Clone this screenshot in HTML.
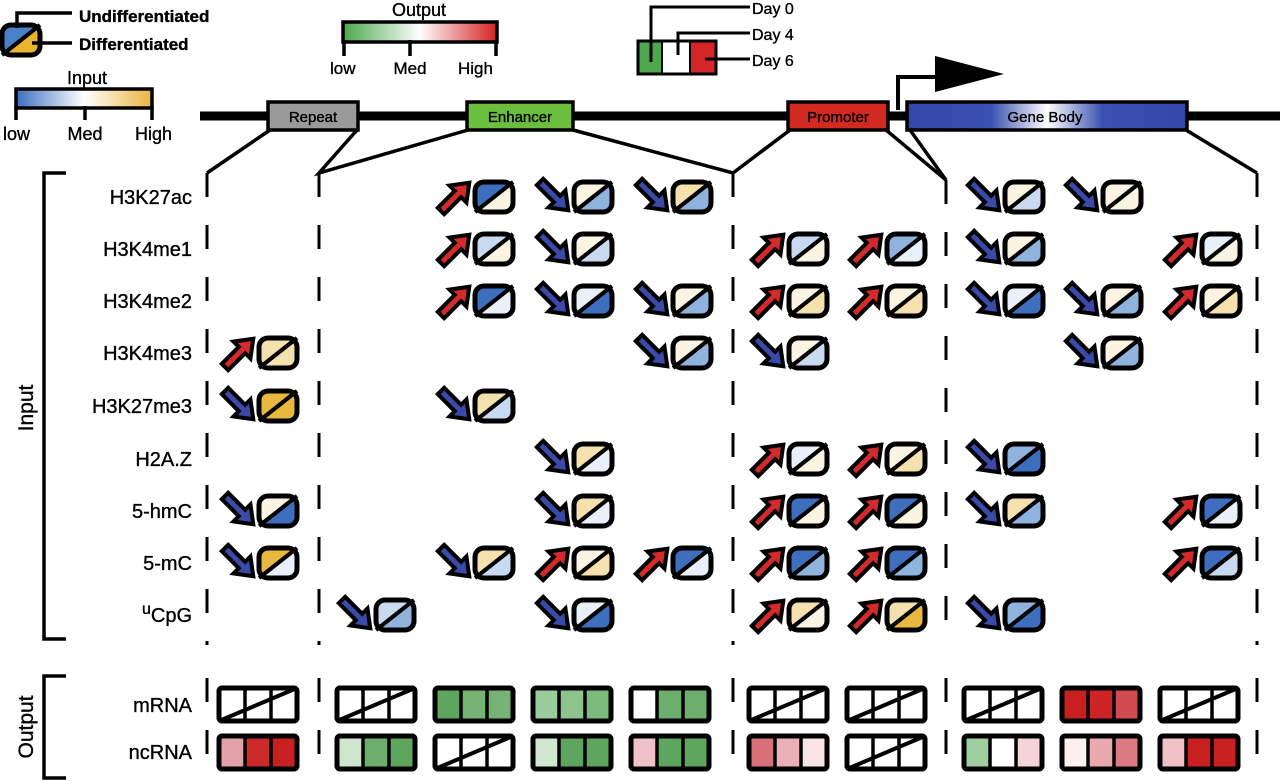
<!DOCTYPE html>
<html><head><meta charset="utf-8"><style>
html,body{margin:0;padding:0;background:#fff;width:1280px;height:781px;overflow:hidden}
svg{display:block}
text{font-family:"Liberation Sans",Arial,sans-serif;fill:#000;stroke:#000;stroke-width:0.35px}
</style></head><body>
<svg id="s" width="1280" height="781" viewBox="0 0 1280 781" xmlns="http://www.w3.org/2000/svg">
<defs>
<linearGradient id="gin" x1="0" x2="1"><stop offset="0" stop-color="#3b6fc0"/><stop offset="0.5" stop-color="#ffffff"/><stop offset="1" stop-color="#e9b43e"/></linearGradient>
<linearGradient id="gout" x1="0" x2="1"><stop offset="0" stop-color="#4aa84a"/><stop offset="0.5" stop-color="#ffffff"/><stop offset="1" stop-color="#d42020"/></linearGradient>
<linearGradient id="ggb" x1="0" x2="1"><stop offset="0" stop-color="#3347a8"/><stop offset="0.3" stop-color="#3a50b0"/><stop offset="0.5" stop-color="#ffffff"/><stop offset="0.7" stop-color="#3a50b0"/><stop offset="1" stop-color="#3347a8"/></linearGradient>
<clipPath id="gc"><rect x="-19" y="-15" width="38" height="30" rx="9"/></clipPath>
</defs>

<g transform="translate(21,40)">
<rect x="-19" y="-15" width="38" height="30" rx="9" fill="#e8b430"/>
<polygon clip-path="url(#gc)" points="-20,-16 20,-16 20,-15 -20,15" fill="#4a80c8"/>
<line x1="-19" y1="15" x2="19" y2="-15" stroke="#000" stroke-width="4"/>
<rect x="-19" y="-15" width="38" height="30" rx="9" fill="none" stroke="#000" stroke-width="5"/>
</g>
<polyline points="17,28 17,13 72,13" fill="none" stroke="#000" stroke-width="3.5"/>
<line x1="32" y1="43" x2="72" y2="43" stroke="#000" stroke-width="3.5"/>
<text x="79" y="22" font-size="17" font-weight="bold">Undifferentiated</text>
<text x="79" y="50" font-size="17" font-weight="bold">Differentiated</text>

<text x="87" y="84" font-size="18" text-anchor="middle">Input</text>
<rect x="16" y="89" width="136" height="19" fill="url(#gin)" stroke="#000" stroke-width="3.5"/>
<line x1="16" y1="106" x2="16" y2="120" stroke="#000" stroke-width="3.5"/>
<line x1="85" y1="106" x2="85" y2="120" stroke="#000" stroke-width="3.5"/>
<line x1="152" y1="106" x2="152" y2="120" stroke="#000" stroke-width="3.5"/>
<text x="3" y="140" font-size="18">low</text>
<text x="85" y="140" font-size="18" text-anchor="middle">Med</text>
<text x="135" y="140" font-size="18">High</text>

<text x="419" y="16" font-size="18" text-anchor="middle">Output</text>
<rect x="343" y="22" width="154" height="20" fill="url(#gout)" stroke="#000" stroke-width="3.5"/>
<line x1="344" y1="40" x2="344" y2="56" stroke="#000" stroke-width="3.5"/>
<line x1="410" y1="40" x2="410" y2="56" stroke="#000" stroke-width="3.5"/>
<line x1="496" y1="40" x2="496" y2="56" stroke="#000" stroke-width="3.5"/>
<text x="330" y="74" font-size="17">low</text>
<text x="410" y="74" font-size="17" text-anchor="middle">Med</text>
<text x="458" y="74" font-size="17">High</text>

<rect x="638" y="41" width="24" height="33" fill="#4ea84e"/>
<rect x="662" y="41" width="28" height="33" fill="#fff"/>
<rect x="690" y="41" width="26" height="33" fill="#d42626"/>
<rect x="638" y="41" width="78" height="33" fill="none" stroke="#000" stroke-width="3"/>
<line x1="662" y1="41" x2="662" y2="74" stroke="#000" stroke-width="2"/>
<line x1="690" y1="41" x2="690" y2="74" stroke="#000" stroke-width="2"/>
<polyline points="651,62 651,7 750,7" fill="none" stroke="#000" stroke-width="3"/>
<polyline points="678,55 678,33 750,33" fill="none" stroke="#000" stroke-width="3"/>
<line x1="705" y1="59" x2="750" y2="59" stroke="#000" stroke-width="3"/>
<text x="752" y="14" font-size="16">Day 0</text>
<text x="752" y="40" font-size="16">Day 4</text>
<text x="752" y="66" font-size="16">Day 6</text>

<line x1="200" y1="116" x2="1280" y2="116" stroke="#000" stroke-width="9"/>
<polyline points="898,110 898,77 937,77" fill="none" stroke="#000" stroke-width="4"/>
<polygon points="935,56 1004,74 935,92" fill="#000"/>
<rect x="268" y="102" width="90" height="28" fill="#9a9a9a" stroke="#000" stroke-width="3.5"/>
<text x="313" y="122" font-size="15" text-anchor="middle">Repeat</text>
<rect x="467" y="102" width="106" height="28" fill="#6cbf3c" stroke="#000" stroke-width="3.5"/>
<text x="520" y="122" font-size="15" text-anchor="middle">Enhancer</text>
<rect x="788" y="102" width="100" height="28" fill="#d22a20" stroke="#000" stroke-width="3.5"/>
<text x="838" y="122" font-size="15" text-anchor="middle">Promoter</text>
<rect x="907" y="102" width="280" height="28" fill="url(#ggb)" stroke="#000" stroke-width="3.5"/>
<text x="1045" y="122" font-size="15" text-anchor="middle">Gene Body</text>

<g stroke="#000" stroke-width="3.5" fill="none">
<polyline points="270,130 207,173"/>
<polyline points="357,130 319,173 468,130"/>
<polyline points="573,130 733,173 790,130"/>
<polyline points="886,130 946,180 910,130"/>
<polyline points="1186,130 1257,173"/>
</g>
<g stroke="#000" stroke-width="3" stroke-dasharray="24 28">
<line x1="207" y1="173" x2="207" y2="645"/>
<line x1="319" y1="173" x2="319" y2="645"/>
<line x1="733" y1="173" x2="733" y2="645"/>
<line x1="946" y1="180" x2="946" y2="645"/>
<line x1="1257" y1="173" x2="1257" y2="645"/>
</g>
<g stroke="#000" stroke-width="3">
<line x1="207" y1="678" x2="207" y2="702"/><line x1="207" y1="730" x2="207" y2="754"/>
<line x1="319" y1="678" x2="319" y2="702"/><line x1="319" y1="730" x2="319" y2="754"/>
<line x1="733" y1="678" x2="733" y2="702"/><line x1="733" y1="730" x2="733" y2="754"/>
<line x1="946" y1="678" x2="946" y2="702"/><line x1="946" y1="730" x2="946" y2="754"/>
<line x1="1257" y1="678" x2="1257" y2="702"/><line x1="1257" y1="730" x2="1257" y2="754"/>
</g>

<polyline points="66,173 44,173 44,639 66,639" fill="none" stroke="#000" stroke-width="3.5"/>
<polyline points="66,676 44,676 44,778 66,778" fill="none" stroke="#000" stroke-width="3.5"/>
<text transform="translate(33,408) rotate(-90)" font-size="21" text-anchor="middle">Input</text>
<text transform="translate(33,727) rotate(-90)" font-size="21" text-anchor="middle">Output</text>

<g font-size="20" text-anchor="end">
<text x="192" y="204">H3K27ac</text>
<text x="192" y="256">H3K4me1</text>
<text x="192" y="308">H3K4me2</text>
<text x="192" y="360">H3K4me3</text>
<text x="192" y="413">H3K27me3</text>
<text x="192" y="466">H2A.Z</text>
<text x="192" y="518">5-hmC</text>
<text x="192" y="570">5-mC</text>
<text x="192" y="622"><tspan font-size="16" dy="-8">u</tspan><tspan dy="8">CpG</tspan></text>
<text x="192" y="712">mRNA</text>
<text x="192" y="759">ncRNA</text>
</g>
<g id="dyn"></g>
</svg>
<script>
(function(){
var NS="http://www.w3.org/2000/svg",g=document.getElementById("dyn");
function el(t,a,p){var e=document.createElementNS(NS,t);for(var k in a)e.setAttribute(k,a[k]);(p||g).appendChild(e);return e;}
var C={B:"#3e6fbe",M:"#8fb3dd",L:"#c8daf0",W:"#e9f0f9",C:"#fbf4e2",Y1:"#f5e1ae",Y:"#e9b83e"};
var cx=[0,278,395,494,593,692,808,906,1024,1122,1221];
var ry=[197,249,301,353,406,459,511,563,615];
var D=[
[[3,1,"B","C"],[4,0,"C","M"],[5,0,"Y1","M"],[8,0,"C","L"],[9,0,"C","C"]],
[[3,1,"L","C"],[4,0,"C","L"],[6,1,"L","C"],[7,1,"M","W"],[8,0,"C","M"],[10,1,"W","C"]],
[[3,1,"B","W"],[4,0,"W","B"],[5,0,"C","M"],[6,1,"C","Y1"],[7,1,"C","Y1"],[8,0,"W","B"],[9,0,"C","M"],[10,1,"C","Y1"]],
[[1,1,"Y1","Y1"],[5,0,"C","M"],[6,0,"C","L"],[9,0,"C","M"]],
[[1,0,"Y","Y"],[3,0,"Y1","L"]],
[[4,0,"Y1","W"],[6,1,"W","C"],[7,1,"C","Y1"],[8,0,"M","B"]],
[[1,0,"C","B"],[4,0,"Y1","W"],[6,1,"B","C"],[7,1,"B","C"],[8,0,"Y1","M"],[10,1,"B","W"]],
[[1,0,"Y","W"],[3,0,"Y1","L"],[4,1,"C","Y1"],[5,1,"B","W"],[6,1,"B","M"],[7,1,"B","M"],[10,1,"B","L"]],
[[2,0,"L","M"],[4,0,"W","B"],[6,1,"Y1","C"],[7,1,"Y1","Y"],[8,0,"M","B"]]
];
var AP="0,-4.5 24,-4.5 24,-12 40,0 24,12 24,4.5 0,4.5";
D.forEach(function(r,i){r.forEach(function(d){
 var t=el("g",{transform:"translate("+cx[d[0]]+","+ry[i]+")"});
 if(d[1])el("polygon",{points:AP,fill:"#d42a2a",stroke:"#000","stroke-width":4,"stroke-linejoin":"miter",transform:"translate(-53,14) rotate(-45)"},t);
 else el("polygon",{points:AP,fill:"#3a4aa8",stroke:"#000","stroke-width":4,"stroke-linejoin":"miter",transform:"translate(-53,-15) rotate(45)"},t);
 el("rect",{x:-19,y:-15,width:38,height:30,rx:9,fill:C[d[3]]},t);
 el("polygon",{points:"-20,-16 20,-16 20,-15 -20,15",fill:C[d[2]],"clip-path":"url(#gc)"},t);
 el("line",{x1:-19,y1:15,x2:19,y2:-15,stroke:"#000","stroke-width":4},t);
 el("rect",{x:-19,y:-15,width:38,height:30,rx:9,fill:"none",stroke:"#000","stroke-width":5},t);
});});
var bx=[0,219,337,435,533,631,749,847,964,1062,1160];
var X=null;
var mr=[X,X,["#5ea55e","#74b374","#74b374"],["#9ccc9c","#8cc48c","#7bbb7b"],["#fff","#6cae6c","#6cae6c"],X,X,X,["#c82020","#cc2424","#d04a50"],X];
var nc=[["#e4a0a8","#cc2a2a","#c82020"],["#cde5cd","#6cae6c","#5ea55e"],X,["#d0e8d0","#5ea55e","#5ea55e"],["#efc0c6","#5ea55e","#5ea55e"],["#d8707a","#ebb0b6","#f8e4e6"],X,["#9fcf9f","#fff","#f4d4d8"],["#fcf0f0","#e8a8ae","#dc7a82"],["#f0c0c5","#c82020","#c82020"]];
function box(x,y,c){
 var w=78,h=33,cw=w/3;
 if(c){for(var k=0;k<3;k++)el("rect",{x:x+k*cw,y:y,width:cw,height:h,fill:c[k]});}
 else el("rect",{x:x,y:y,width:w,height:h,fill:"#fff"});
 for(var k=1;k<3;k++)el("line",{x1:x+k*cw,y1:y,x2:x+k*cw,y2:y+h,stroke:"#000","stroke-width":3.5});
 if(!c)el("line",{x1:x,y1:y+h,x2:x+w,y2:y,stroke:"#000","stroke-width":4});
 el("rect",{x:x,y:y,width:w,height:h,rx:3,fill:"none",stroke:"#000","stroke-width":5});
}
for(var j=1;j<=10;j++){box(bx[j],688,mr[j-1]);box(bx[j],736,nc[j-1]);}
})();
</script>
</body></html>
